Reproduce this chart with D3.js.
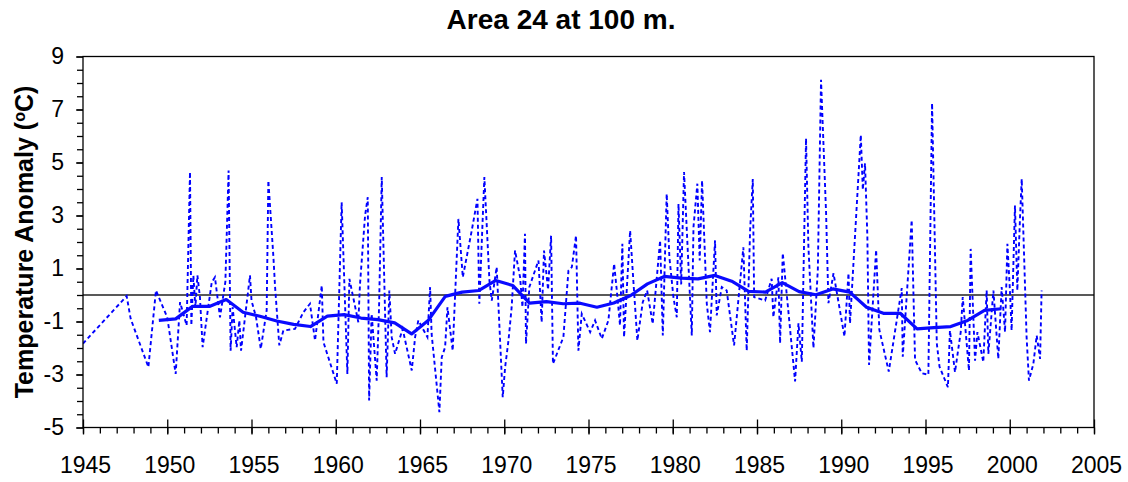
<!DOCTYPE html>
<html lang="en">
<head>
    <meta charset="utf-8" />
    <title>Area 24 at 100 m.</title>
    <script src="https://d3js.org/d3.v7.min.js"></script>
    <style>
        body { margin: 0; background: #fff; }
        #chart { width: 1128px; height: 482px; }
        text { font-family: "Liberation Sans", Arial, sans-serif; fill: #000; }
        .axis path { display: none; }
        .axis line { stroke: #000; stroke-width: 1.3; }
        .axis text { font-size: 23px; }
    </style>
</head>
<body>
<div id="chart"></div>
<script>
    // observations (decimal year, anomaly)
    var obsTime = [
        1945.0, 1947.59, 1947.83, 1948.88, 1949.33, 1950.0, 1950.5, 1950.76, 1951.15, 1951.35,
        1951.43, 1951.55, 1951.67, 1951.79, 1951.94, 1952.10, 1952.64, 1952.83, 1953.13, 1953.45,
        1953.64, 1953.76, 1953.88, 1954.12, 1954.28, 1954.38, 1954.91, 1955.0, 1955.27, 1955.55,
        1955.90, 1956.0, 1956.30, 1956.40, 1956.65, 1956.89, 1957.58, 1958.08, 1958.47, 1958.77,
        1959.17, 1959.27, 1960.06, 1960.35, 1960.69, 1960.81, 1961.34, 1961.44, 1961.74, 1961.90,
        1961.98, 1962.13, 1962.43, 1962.57, 1962.73, 1963.02, 1963.18, 1963.32, 1963.52, 1963.97,
        1964.51, 1964.71, 1964.90, 1965.44, 1965.60, 1965.69, 1966.15, 1966.29, 1966.49, 1966.63,
        1966.94, 1967.28, 1967.54, 1967.77, 1968.07, 1968.41, 1968.52, 1968.82, 1969.12, 1969.26,
        1969.55, 1969.91, 1970.05, 1970.25, 1970.44, 1970.64, 1970.94, 1971.08, 1971.23, 1971.29,
        1971.49, 1972.03, 1972.22, 1972.36, 1972.60, 1972.78, 1972.89, 1973.51, 1973.81, 1974.01,
        1974.26, 1974.40, 1974.60, 1975.10, 1975.39, 1975.79, 1976.18, 1976.52, 1976.68, 1976.87,
        1977.01, 1977.11, 1977.47, 1977.66, 1977.90, 1978.22, 1978.48, 1978.81, 1979.25, 1979.41,
        1979.64, 1979.80, 1980.04, 1980.24, 1980.34, 1980.50, 1980.67, 1981.13, 1981.23, 1981.46,
        1981.60, 1981.74, 1982.02, 1982.21, 1982.51, 1982.61, 1982.91, 1983.20, 1983.64, 1984.19,
        1984.39, 1984.59, 1984.75, 1984.83, 1985.48, 1985.87, 1985.97, 1986.27, 1986.37, 1986.53,
        1987.26, 1987.46, 1987.66, 1987.91, 1988.05, 1988.35, 1988.61, 1988.80, 1989.10, 1989.24,
        1989.54, 1990.19, 1990.43, 1990.52, 1991.16, 1991.28, 1991.41, 1991.55, 1991.65, 1992.07,
        1992.26, 1992.82, 1993.59, 1993.65, 1994.18, 1994.38, 1994.78, 1995.17, 1995.39, 1995.67,
        1995.83, 1996.33, 1996.45, 1996.75, 1997.09, 1997.21, 1997.58, 1997.68, 1997.94, 1998.08,
        1998.43, 1998.63, 1998.73, 1999.03, 1999.32, 1999.52, 1999.72, 1999.86, 2000.01, 2000.11,
        2000.31, 2000.45, 2000.61, 2000.71, 2001.0, 2001.14, 2001.40, 2001.60, 2001.80, 2001.89
    ];
    var obsTemp = [
        -1.83, -0.04, -0.90, -2.72, 0.17, -0.84, -2.98, -0.27, -1.15, 4.64,
        -1.15, 0.74, -0.46, 0.74, -0.08, -1.97, 0.48, 0.67, -0.84, 0.50,
        4.70, -2.10, -0.46, -1.97, -0.96, -2.10, 0.74, -0.21, -0.84, -2.03,
        -0.58, 4.32, 1.43, 0.30, -1.90, -1.34, -1.28, -0.65, -0.33, -1.72,
        0.36, -1.78, -3.35, 3.50, -2.98, 0.61, -1.03, 0.42, 3.00, 3.69,
        -3.98, -0.71, -3.23, -0.46, 4.45, -3.10, 0.17, -1.59, -2.22, -1.28,
        -2.85, -1.59, -0.96, -1.59, 0.30, -1.47, -4.42, -2.35, -1.97, -0.46,
        -2.10, 2.87, 0.67, 1.43, 2.43, 3.63, -0.33, 4.45, 0.55, -0.21,
        1.05, -3.86, -2.73, -1.72, -0.46, 1.68, 0.67, -0.46, 2.31, -1.84,
        0.30, 1.30, -1.03, 1.68, 0.20, 2.24, -2.60, -1.59, 0.92, 1.05,
        2.24, -2.10, -0.71, -1.40, -0.96, -1.65, -0.96, 1.18, 0.17, -1.15,
        1.93, -1.59, 2.43, 0.55, -1.72, -0.27, 0.17, -1.09, 2.06, -1.53,
        3.82, 1.43, -0.08, -0.84, 3.44, 0.40, 4.64, -1.53, 2.56, 4.20,
        1.30, 4.32, -0.33, -1.40, 2.06, -0.77, 0.30, 0.17, -1.90, 1.80,
        -2.10, 2.43, 4.38, -0.08, -0.21, 0.61, -0.84, 0.67, -1.82, 1.58,
        -3.26, -1.07, -2.52, 5.91, 1.83, -2.00, 0.95, 8.12, 3.09, -0.31,
        0.82, -1.57, 0.82, -1.07, 6.04, 3.97, 4.97, 2.20, -2.64, 1.70,
        -1.31, -2.89, 0.26, -2.33, 2.83, -2.45, -2.95, -3.01, 7.24, -1.82,
        -2.70, -3.48, -1.34, -2.91, -1.40, -0.08, -2.85, 1.74, -2.48, -1.40,
        -2.53, 0.17, -2.22, 0.17, -2.41, 0.30, -1.40, 1.93, 0.17, -1.34,
        3.38, 0.17, 2.94, 4.38, -1.59, -3.23, -2.60, -1.53, -2.41, 0.17
    ];

    // 5-year running mean, plotted at mid-year
    var meanYear = d3.range(1949, 2000);
    var meanTemp = [
        -0.96, -0.90, -0.43, -0.43, -0.17, -0.65, -0.80, -0.98, -1.11, -1.19,
        -0.80, -0.74, -0.87, -0.93, -1.05, -1.47, -0.95, -0.05, 0.11, 0.17,
        0.55, 0.36, -0.31, -0.25, -0.33, -0.31, -0.46, -0.30, -0.02, 0.42,
        0.70, 0.64, 0.61, 0.74, 0.52, 0.14, 0.11, 0.47, 0.13, 0.01,
        0.23, 0.11, -0.46, -0.69, -0.69, -1.28, -1.23, -1.19, -0.96, -0.58,
        -0.52
    ];

    var xTicks = d3.range(1945, 2006, 5);
    var xMinor = d3.range(1945, 2006, 1);
    var yTicks = d3.range(-5, 10, 2);
    var yMinor = d3.range(-5, 9.01, 0.5);

    var width = 1128;
    var height = 482;
    var plotL = 83, plotR = 1094, plotT = 56.5, plotB = 427.5;

    var x = d3.scaleLinear().domain([1945, 2005]).range([plotL, plotR]);
    var y = d3.scaleLinear().domain([-5, 9]).range([plotB, plotT]);

    // plain hyphen for negatives, like the original
    var fmt = function(d) { return String(d); };

    var svg = d3.select('#chart')
        .append('svg')
        .attr('width', width)
        .attr('height', height);

    svg.append('clipPath')
        .attr('id', 'plot-clip')
        .append('rect')
        .attr('x', plotL)
        .attr('y', plotT)
        .attr('width', plotR - plotL)
        .attr('height', plotB - plotT);

    // minor ticks
    svg.append('g')
        .attr('class', 'axis')
        .attr('transform', 'translate(0,' + plotB + ')')
        .call(d3.axisBottom(x).tickValues(xMinor).tickSize(6).tickFormat(''));

    svg.append('g')
        .attr('class', 'axis')
        .attr('transform', 'translate(' + plotL + ',0)')
        .call(d3.axisLeft(y).tickValues(yMinor).tickSize(6).tickFormat(''));

    // major ticks + labels
    var xAxis = svg.append('g')
        .attr('class', 'axis')
        .attr('transform', 'translate(0,' + plotB + ')')
        .call(d3.axisBottom(x).tickValues(xTicks).tickSize(7).tickPadding(22).tickFormat(fmt));
    xAxis.selectAll('.tick line').attr('y1', -8).attr('y2', 7);
    xAxis.selectAll('.tick text').attr('dx', 2);

    svg.append('g')
        .attr('class', 'axis')
        .attr('transform', 'translate(' + plotL + ',0)')
        .call(d3.axisLeft(y).tickValues(yTicks).tickSize(7).tickPadding(12).tickFormat(fmt));

    // zero line
    svg.append('line')
        .attr('x1', plotL)
        .attr('x2', plotR)
        .attr('y1', y(0))
        .attr('y2', y(0))
        .style('stroke', '#222')
        .style('stroke-width', 1.3);

    var obs = obsTime.map(function(t, i) { return [t, obsTemp[i]]; });
    var mean = meanYear.map(function(t, i) { return [t + 0.5, meanTemp[i]]; });

    var line = d3.line()
        .x(function(d) { return x(d[0]); })
        .y(function(d) { return y(d[1]); });

    svg.append('path')
        .datum(obs)
        .attr('clip-path', 'url(#plot-clip)')
        .attr('d', line)
        .style('fill', 'none')
        .style('stroke', '#0000ff')
        .style('stroke-width', 1.9)
        .style('stroke-dasharray', '4,3');

    svg.append('path')
        .datum(mean)
        .attr('d', line)
        .style('fill', 'none')
        .style('stroke', '#0a0aff')
        .style('stroke-width', 3.2)
        .style('stroke-linejoin', 'round');

    // frame
    svg.append('rect')
        .attr('x', plotL)
        .attr('y', plotT)
        .attr('width', plotR - plotL)
        .attr('height', plotB - plotT)
        .style('fill', 'none')
        .style('stroke', '#000')
        .style('stroke-width', 1.3);

    svg.append('text')
        .attr('x', 561)
        .attr('y', 29)
        .attr('text-anchor', 'middle')
        .style('font-size', '28px')
        .style('font-weight', 'bold')
        .text('Area 24 at 100 m.');

    var yTitle = svg.append('text')
        .attr('transform', 'translate(33,' + ((plotT + plotB) / 2) + ') rotate(-90)')
        .attr('text-anchor', 'middle')
        .style('font-size', '25px')
        .style('font-weight', 'bold');
    yTitle.append('tspan').text('Temperature Anomaly (');
    yTitle.append('tspan').attr('dy', -8).style('font-size', '16px').text('o');
    yTitle.append('tspan').attr('dy', 8).text('C)');
</script>
</body>
</html>
